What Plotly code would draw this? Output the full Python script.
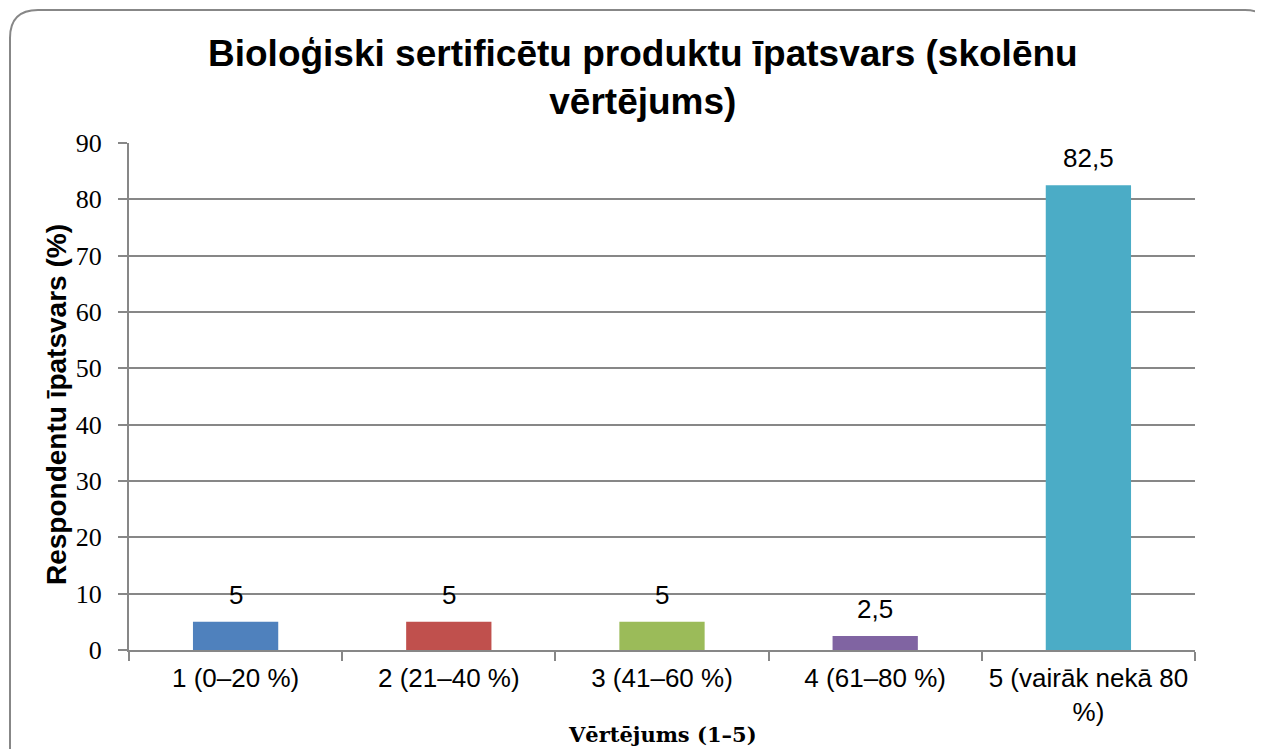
import plotly.graph_objects as go

categories = ["1 (0–20 %)", "2 (21–40 %)", "3 (41–60 %)", "4 (61–80 %)", "5 (vairāk nekā 80 %)"]
tick_labels = ["1 (0–20 %)", "2 (21–40 %)", "3 (41–60 %)", "4 (61–80 %)", "5 (vairāk nekā 80<br>%)"]
values = [5, 5, 5, 2.5, 82.5]
value_labels = ["5", "5", "5", "2,5", "82,5"]
colors = ["#4F81BD", "#C0504D", "#9BBB59", "#8064A2", "#4BACC6"]

OFF = 8  # page body margin
W, H = 1263 - OFF, 749 - OFF
L, R, T, B = 129, 1195, 143, 650  # plot area, page pixels


def px(x):
    return (x - L) / (R - L)


def py(y):
    return (B - y) / (B - T)


fig = go.Figure()
fig.add_trace(go.Bar(
    x=categories, y=values,
    marker=dict(color=colors, line=dict(width=0)),
))

# value labels above bars
for c, v, t in zip(categories, values, value_labels):
    fig.add_annotation(x=c, y=v, text=t, showarrow=False, yanchor="bottom", yshift=10,
                       font=dict(family="Liberation Sans", size=26, color="black"))

# rounded frame around the chart
border = (f"M {px(10)},{py(770)} L {px(10)},{py(38)} Q {px(10)},{py(10)} {px(38)},{py(10)} "
          f"L {px(1245)},{py(10)} Q {px(1270)},{py(10)} {px(1270)},{py(35)} L {px(1270)},{py(770)}")
fig.add_shape(type="path", path=border, xref="paper", yref="paper",
              line=dict(color="#878787", width=2), layer="below")

fig.add_annotation(text="<b>Bioloģiski sertificētu produktu īpatsvars (skolēnu<br>vērtējums)</b>",
                   xref="paper", yref="paper", x=px(643), y=py(77),
                   xanchor="center", yanchor="middle", showarrow=False,
                   font=dict(family="Liberation Sans", size=37, color="black"))
fig.add_annotation(text="<b>Respondentu īpatsvars (%)</b>", xref="paper", yref="paper",
                   x=px(56), y=py(405), xanchor="center", yanchor="middle",
                   textangle=-90, showarrow=False,
                   font=dict(family="Liberation Sans", size=28, color="black"))
fig.add_annotation(text="<b>Vērtējums (1–5)</b>", xref="paper", yref="paper",
                   x=px(662), y=py(734), xanchor="center", yanchor="middle", showarrow=False,
                   font=dict(family="DejaVu Serif", size=21, color="black"))

fig.update_layout(
    width=W, height=H,
    margin=dict(l=L - OFF, r=W - (R - OFF), t=T - OFF, b=H - (B - OFF)),
    paper_bgcolor="white", plot_bgcolor="white",
    showlegend=False,
    bargap=0.6,
    xaxis=dict(
        tickmode="array", tickvals=categories, ticktext=tick_labels,
        tickfont=dict(family="Liberation Sans", size=26, color="black"),
        ticks="outside", tickson="boundaries", ticklen=9, tickwidth=2, tickcolor="#878787",
        ticklabelstandoff=4,
        showline=True, linecolor="#878787", linewidth=2,
        showgrid=False,
    ),
    yaxis=dict(
        range=[0, 90], dtick=10,
        tickfont=dict(family="Liberation Serif", size=26, color="black"),
        ticks="outside", ticklen=9, tickwidth=2, tickcolor="#878787",
        ticklabelstandoff=11,
        showline=True, linecolor="#878787", linewidth=2,
        showgrid=True, gridcolor="#878787", gridwidth=2,
        zeroline=False,
    ),
)

fig.write_html("out.html")
